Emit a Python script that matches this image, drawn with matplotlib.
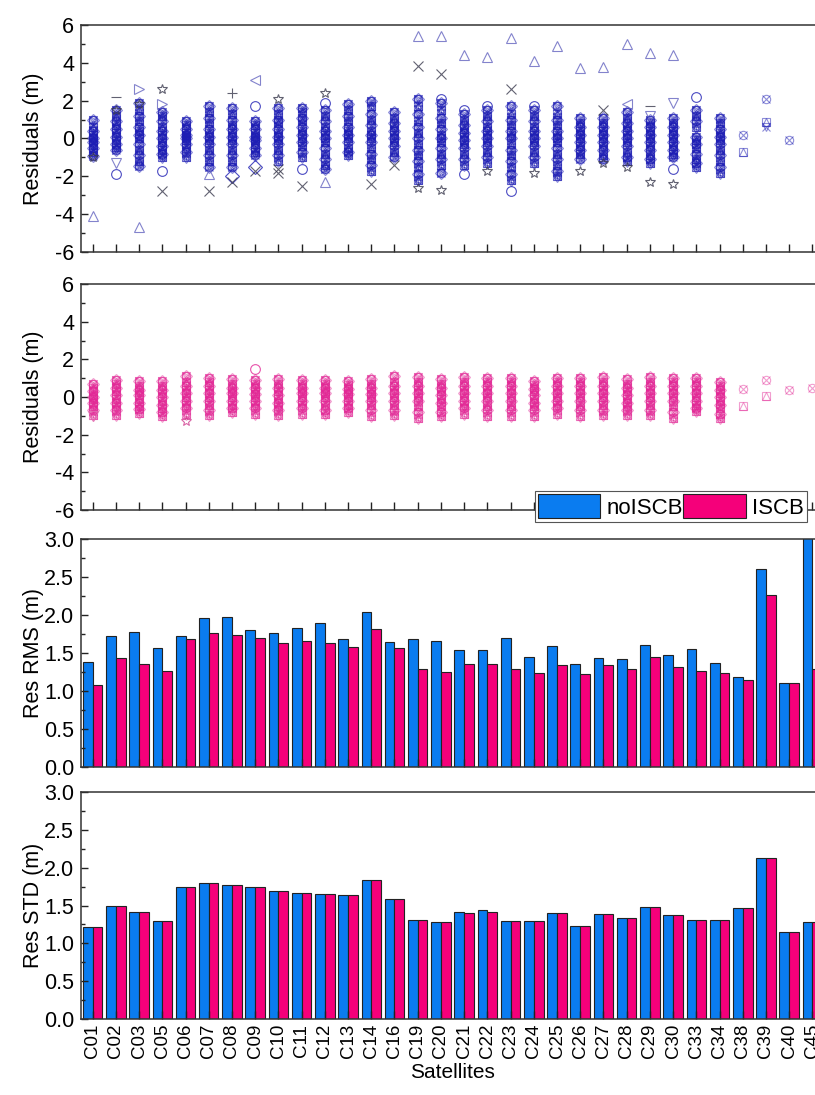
import matplotlib.pyplot as plt
import numpy as np
from matplotlib.ticker import MultipleLocator, FormatStrFormatter
from matplotlib.patches import Patch

plt.rcParams['font.family'] = ['Liberation Sans', 'DejaVu Sans']
plt.rcParams['axes.unicode_minus'] = False

sats = ['C01', 'C02', 'C03', 'C05', 'C06', 'C07', 'C08', 'C09', 'C10', 'C11',
        'C12', 'C13', 'C14', 'C16', 'C19', 'C20', 'C21', 'C22', 'C23', 'C24',
        'C25', 'C26', 'C27', 'C28', 'C29', 'C30', 'C33', 'C34', 'C38', 'C39',
        'C40', 'C45']

rms_noiscb = [1.38, 1.72, 1.78, 1.57, 1.72, 1.96, 1.98, 1.80, 1.77, 1.83, 1.89, 1.69,
              2.04, 1.64, 1.69, 1.66, 1.54, 1.54, 1.70, 1.45, 1.59, 1.36, 1.44, 1.42,
              1.61, 1.47, 1.55, 1.37, 1.19, 2.60, 1.10, 3.20]
rms_iscb = [1.08, 1.44, 1.35, 1.26, 1.68, 1.77, 1.74, 1.70, 1.63, 1.66, 1.63, 1.58,
            1.82, 1.56, 1.29, 1.25, 1.35, 1.36, 1.29, 1.24, 1.34, 1.22, 1.34, 1.29,
            1.45, 1.31, 1.26, 1.24, 1.15, 2.27, 1.10, 1.29]
std_noiscb = [1.21, 1.50, 1.41, 1.29, 1.74, 1.80, 1.77, 1.74, 1.69, 1.66, 1.65, 1.64,
              1.84, 1.59, 1.31, 1.28, 1.41, 1.44, 1.29, 1.30, 1.40, 1.23, 1.39, 1.34,
              1.48, 1.38, 1.31, 1.31, 1.47, 2.13, 1.15, 1.28]
std_iscb = [1.21, 1.50, 1.41, 1.29, 1.74, 1.80, 1.77, 1.74, 1.69, 1.66, 1.65, 1.64,
            1.84, 1.59, 1.31, 1.28, 1.40, 1.42, 1.29, 1.30, 1.40, 1.23, 1.39, 1.34,
            1.48, 1.38, 1.31, 1.31, 1.47, 2.13, 1.15, 1.28]

# residual columns without ISCB (one list per satellite)
res_noiscb = [
    [1.0, 0.6, 0.4, 0.2, 0.0, -0.1, -0.2, -0.35, -0.5, -0.7, -0.95],
    [1.5, 1.2, 0.9, 0.7, 0.5, 0.3, 0.1, -0.1, -0.3, -0.45, -0.6],
    [1.9, 1.5, 1.2, 0.9, 0.6, 0.4, 0.2, 0.0, -0.3, -0.6, -0.9, -1.2, -1.45],
    [1.4, 1.2, 0.9, 0.6, 0.4, 0.2, 0.0, -0.2, -0.4, -0.6, -0.8, -1.0],
    [0.9, 0.7, 0.5, 0.3, 0.2, 0.1, 0.0, -0.1, -0.3, -0.5, -0.7, -1.0],
    [1.7, 1.4, 1.1, 0.8, 0.5, 0.3, 0.1, -0.1, -0.3, -0.6, -0.9, -1.2, -1.5],
    [1.6, 1.3, 1.0, 0.7, 0.5, 0.3, 0.1, -0.1, -0.3, -0.6, -0.9, -1.2, -1.5],
    [0.9, 0.7, 0.5, 0.3, 0.1, 0.0, -0.1, -0.3, -0.5, -0.7, -0.9],
    [1.6, 1.3, 1.0, 0.8, 0.5, 0.3, 0.1, -0.1, -0.3, -0.6, -0.9, -1.2],
    [1.6, 1.4, 1.1, 0.9, 0.6, 0.4, 0.2, 0.0, -0.2, -0.4, -0.7, -1.0],
    [1.5, 1.2, 0.9, 0.6, 0.4, 0.2, 0.0, -0.2, -0.5, -0.8, -1.1, -1.4, -1.6],
    [1.8, 1.5, 1.2, 0.9, 0.6, 0.4, 0.2, 0.0, -0.2, -0.5, -0.7, -0.9],
    [2.0, 1.7, 1.3, 1.0, 0.7, 0.4, 0.2, 0.0, -0.2, -0.5, -0.8, -1.1, -1.4, -1.7],
    [1.4, 1.1, 0.8, 0.6, 0.4, 0.2, 0.0, -0.2, -0.4, -0.7, -1.0],
    [2.1, 1.7, 1.3, 0.9, 0.6, 0.3, 0.0, -0.3, -0.6, -0.9, -1.2, -1.5, -1.9, -2.2],
    [1.9, 1.5, 1.1, 0.8, 0.5, 0.2, 0.0, -0.2, -0.5, -0.8, -1.1, -1.4, -1.8],
    [1.3, 1.0, 0.7, 0.5, 0.3, 0.1, -0.1, -0.3, -0.5, -0.8, -1.1, -1.4],
    [1.5, 1.2, 0.9, 0.6, 0.4, 0.2, 0.0, -0.2, -0.4, -0.7, -1.0, -1.3],
    [1.7, 1.3, 1.0, 0.7, 0.4, 0.2, 0.0, -0.3, -0.6, -0.9, -1.2, -1.5, -1.9, -2.2],
    [1.5, 1.2, 0.9, 0.6, 0.4, 0.2, 0.0, -0.2, -0.4, -0.7, -1.0, -1.3],
    [1.7, 1.3, 1.0, 0.7, 0.4, 0.2, 0.0, -0.2, -0.5, -0.8, -1.1, -1.4, -1.7, -2.0],
    [1.1, 0.8, 0.6, 0.4, 0.2, 0.0, -0.2, -0.4, -0.6, -0.8, -1.1],
    [1.1, 0.8, 0.6, 0.4, 0.2, 0.0, -0.2, -0.4, -0.6, -0.9, -1.1],
    [1.4, 1.1, 0.8, 0.6, 0.4, 0.2, 0.0, -0.2, -0.4, -0.7, -1.0, -1.2],
    [1.0, 0.8, 0.6, 0.4, 0.2, 0.0, -0.2, -0.4, -0.6, -0.9, -1.1, -1.3],
    [1.1, 0.8, 0.6, 0.4, 0.2, 0.0, -0.2, -0.4, -0.6, -0.8, -1.0],
    [1.5, 1.2, 0.9, 0.6, 0.1, -0.1, -0.3, -0.5, -0.8, -1.1, -1.3, -1.5],
    [1.1, 0.8, 0.5, 0.3, 0.1, -0.1, -0.3, -0.6, -0.9, -1.2, -1.5, -1.8],
    [0.2, -0.7],
    [2.1, 0.85, 0.6],
    [-0.1],
    [],
]
out_noiscb_sat = ['C01', 'C01', 'C02', 'C02', 'C02', 'C02', 'C03', 'C03', 'C03',
                  'C05', 'C05', 'C05', 'C05', 'C07', 'C07', 'C08', 'C08', 'C08',
                  'C09', 'C09', 'C09', 'C09', 'C10', 'C10', 'C10', 'C11', 'C11',
                  'C12', 'C12', 'C12', 'C14', 'C16', 'C19', 'C19', 'C19',
                  'C20', 'C20', 'C20', 'C20', 'C21', 'C21', 'C21', 'C22', 'C22', 'C22',
                  'C23', 'C23', 'C23', 'C24', 'C24', 'C24', 'C25', 'C26', 'C26',
                  'C27', 'C27', 'C27', 'C28', 'C28', 'C28', 'C29', 'C29', 'C29', 'C29',
                  'C30', 'C30', 'C30', 'C30', 'C33']
out_noiscb_val = [-4.1, -1.0, 2.2, 1.5, -1.3, -1.9, 2.6, 1.8, -4.7,
                  2.6, 1.8, -1.7, -2.8, -1.9, -2.8, 2.4, -2.0, -2.3,
                  3.1, 1.7, -1.5, -1.7, 2.1, -1.6, -1.8, -1.6, -2.5,
                  2.4, 1.9, -2.3, -2.4, -1.4, 5.4, 3.85, -2.6,
                  5.4, 3.4, 2.1, -2.7, 4.4, 1.5, -1.9, 4.3, 1.7, -1.7,
                  5.3, 2.6, -2.8, 4.1, 1.7, -1.8, 4.9, 3.7, -1.7,
                  3.8, 1.5, -1.3, 5.0, 1.8, -1.5, 4.5, 1.7, 1.2, -2.3,
                  4.4, 1.9, -1.6, -2.4, 2.2]
out_noiscb_mark = ['^', '*', '_', '*', 'v', 'o', '>', '*', '^',
                   '*', '>', 'o', 'x', '^', 'x', '+', 'D', 'x',
                   '<', 'o', 'D', 'x', '*', 'x', 'x', 'o', 'x',
                   '*', 'o', '^', 'x', 'x', '^', 'x', '*',
                   '^', 'x', 'o', '*', '^', 'o', 'o', '^', 'o', '*',
                   '^', 'x', 'o', '^', 'o', '*', '^', '^', '*',
                   '^', 'x', '*', '^', '<', '*', '^', '_', 'v', '*',
                   '^', 'v', 'o', '*', 'o']

# residual columns with ISCB
res_iscb = [
    [0.7, 0.5, 0.3, 0.1, 0.0, -0.1, -0.3, -0.5, -0.7, -0.95],
    [0.9, 0.7, 0.5, 0.3, 0.1, -0.1, -0.3, -0.5, -0.7, -0.95],
    [0.85, 0.6, 0.4, 0.25, 0.1, -0.1, -0.3, -0.5, -0.65, -0.85],
    [0.85, 0.6, 0.4, 0.2, 0.0, -0.2, -0.4, -0.6, -0.8, -1.0],
    [1.1, 0.8, 0.6, 0.4, 0.2, 0.0, -0.2, -0.4, -0.6, -0.9],
    [1.0, 0.8, 0.6, 0.4, 0.2, 0.0, -0.2, -0.4, -0.7, -0.95],
    [0.95, 0.7, 0.5, 0.3, 0.2, 0.0, -0.2, -0.4, -0.6, -0.8],
    [0.9, 0.7, 0.5, 0.3, 0.15, 0.0, -0.2, -0.4, -0.6, -0.9],
    [0.95, 0.7, 0.5, 0.3, 0.1, -0.1, -0.3, -0.5, -0.7, -0.95],
    [0.9, 0.7, 0.5, 0.3, 0.2, 0.0, -0.2, -0.4, -0.6, -0.9],
    [0.9, 0.7, 0.5, 0.3, 0.2, 0.0, -0.2, -0.4, -0.7, -0.9],
    [0.85, 0.65, 0.45, 0.3, 0.15, 0.0, -0.2, -0.4, -0.6, -0.8],
    [0.95, 0.7, 0.5, 0.3, 0.15, 0.0, -0.2, -0.4, -0.7, -1.0],
    [1.1, 0.8, 0.6, 0.4, 0.2, 0.0, -0.2, -0.4, -0.7, -0.95],
    [1.05, 0.8, 0.6, 0.4, 0.2, 0.0, -0.2, -0.5, -0.8, -1.1],
    [0.95, 0.7, 0.5, 0.3, 0.1, -0.1, -0.3, -0.5, -0.8, -1.0],
    [1.05, 0.8, 0.6, 0.4, 0.2, 0.0, -0.2, -0.4, -0.6, -0.9],
    [1.0, 0.8, 0.6, 0.4, 0.2, 0.0, -0.2, -0.5, -0.7, -1.0],
    [1.0, 0.8, 0.6, 0.4, 0.2, 0.0, -0.2, -0.5, -0.7, -1.0],
    [0.85, 0.65, 0.45, 0.3, 0.1, -0.1, -0.3, -0.5, -0.7, -1.0],
    [1.0, 0.8, 0.6, 0.4, 0.2, 0.0, -0.2, -0.4, -0.6, -0.9],
    [1.0, 0.8, 0.6, 0.4, 0.2, 0.0, -0.2, -0.5, -0.7, -1.0],
    [1.05, 0.8, 0.6, 0.4, 0.2, 0.0, -0.2, -0.4, -0.7, -0.95],
    [0.95, 0.7, 0.5, 0.3, 0.1, -0.1, -0.3, -0.5, -0.7, -0.95],
    [1.05, 0.8, 0.6, 0.4, 0.2, 0.0, -0.2, -0.4, -0.7, -0.95],
    [1.0, 0.8, 0.6, 0.4, 0.2, 0.0, -0.2, -0.5, -0.8, -1.1],
    [1.0, 0.8, 0.6, 0.4, 0.2, 0.0, -0.2, -0.4, -0.6, -0.75],
    [0.8, 0.6, 0.4, 0.2, 0.0, -0.2, -0.4, -0.6, -0.9, -1.1],
    [0.45, -0.5],
    [0.9, 0.05],
    [0.37],
    [0.5],
]
out_iscb_sat = ['C01', 'C06', 'C09']
out_iscb_val = [-1.0, -1.25, 1.5]
out_iscb_mark = ['v', '*', 'o']

blue = '#0A7CF0'
pink = '#F5007A'
core_marks = ['o', '^', 'x', 's', 'v', '*', 'D', '<', '>', '+', 'h', 'd']

fig = plt.figure(figsize=(8.15, 10.95), dpi=100)
left, width = 0.0994, 0.9117
ax1 = fig.add_axes([left, 0.7699, width, 0.2073])
ax2 = fig.add_axes([left, 0.5342, width, 0.2064])
ax3 = fig.add_axes([left, 0.2995, width, 0.2082])
ax4 = fig.add_axes([left, 0.0694, width, 0.2073])

x = np.arange(len(sats))


def draw_residuals(ax, core, o_sat, o_val, o_mark, color, dark, light, alpha):
    pts = {m: ([], []) for m in core_marks}
    for i, vals in enumerate(core):
        n_mark = 6 if len(vals) > 3 else 2
        for j, v in enumerate(vals):
            for k in range(n_mark):
                m = core_marks[(j + 2 * k) % len(core_marks)]
                pts[m][0].append(i)
                pts[m][1].append(v)
    for m, (px, py) in pts.items():
        ax.plot(px, py, linestyle='none', marker=m, ms=6, mfc='none',
                mec=color, mew=0.8, alpha=alpha)
    for s, v, m in zip(o_sat, o_val, o_mark):
        if m in ['x', '*', '+', '_']:
            c = dark
        elif m in ['^', 'v', '<', '>']:
            c = light
        else:
            c = color
        ax.plot(sats.index(s), v, linestyle='none', marker=m, ms=7, mfc='none',
                mec=c, mew=0.8, alpha=0.8)


draw_residuals(ax1, res_noiscb, out_noiscb_sat, out_noiscb_val, out_noiscb_mark,
               '#1e1eb4', '#3a3a4e', '#6464c0', 0.5)
draw_residuals(ax2, res_iscb, out_iscb_sat, out_iscb_val, out_iscb_mark,
               '#e22896', '#d04090', '#e070b0', 0.45)

w = 0.42
ax3.bar(x - w / 2, rms_noiscb, w, color=blue, edgecolor='#222222', linewidth=0.8)
ax3.bar(x + w / 2, rms_iscb, w, color=pink, edgecolor='#222222', linewidth=0.8)
ax4.bar(x - w / 2, std_noiscb, w, color=blue, edgecolor='#222222', linewidth=0.8)
ax4.bar(x + w / 2, std_iscb, w, color=pink, edgecolor='#222222', linewidth=0.8)

for ax, lo, hi, major, minor, label in [
        (ax1, -6, 6, 2, 1, 'Residuals (m)'),
        (ax2, -6, 6, 2, 1, 'Residuals (m)'),
        (ax3, 0, 3, 0.5, 0.25, 'Res RMS (m)'),
        (ax4, 0, 3, 0.5, 0.25, 'Res STD (m)')]:
    ax.set_xlim(-0.5, len(sats) - 0.5)
    ax.set_ylim(lo, hi)
    ax.set_xticks(x)
    ax.yaxis.set_major_locator(MultipleLocator(major))
    ax.yaxis.set_minor_locator(MultipleLocator(minor))
    if major < 1:
        ax.yaxis.set_major_formatter(FormatStrFormatter('%.1f'))
    ax.tick_params(axis='both', which='both', direction='in', top=False,
                   right=False, labelsize=15.5, colors='#222222', labelcolor='black')
    ax.tick_params(which='major', length=5, width=1)
    ax.tick_params(which='minor', length=3, width=1)
    ax.tick_params(axis='y', pad=5)
    ax.tick_params(axis='x', length=6)
    for sp in ax.spines.values():
        sp.set_linewidth(1.1)
        sp.set_color('#333333')
    ax.set_ylabel(label, fontsize=15.5)
    ax.yaxis.set_label_coords(-0.05, 0.5)
    if ax is not ax4:
        ax.tick_params(axis='x', labelbottom=False)

ax4.set_xticklabels(sats, rotation=90, fontsize=13.5)
ax4.set_xlabel('Satellites', fontsize=15, labelpad=3)

handles = [Patch(facecolor=blue, edgecolor='#222222', linewidth=0.8),
           Patch(facecolor=pink, edgecolor='#222222', linewidth=0.8)]
leg = fig.legend(handles, ['noISCB', 'ISCB'], ncol=2, loc='lower left',
                 bbox_to_anchor=(0.656, 0.5233), borderaxespad=0, fontsize=16,
                 handlelength=2.8, handleheight=1.3, handletextpad=0.3,
                 columnspacing=0.0, borderpad=0.15, fancybox=False,
                 edgecolor='#555555', framealpha=1)
leg.get_frame().set_linewidth(0.8)

fig.savefig('out.png', dpi=100)
